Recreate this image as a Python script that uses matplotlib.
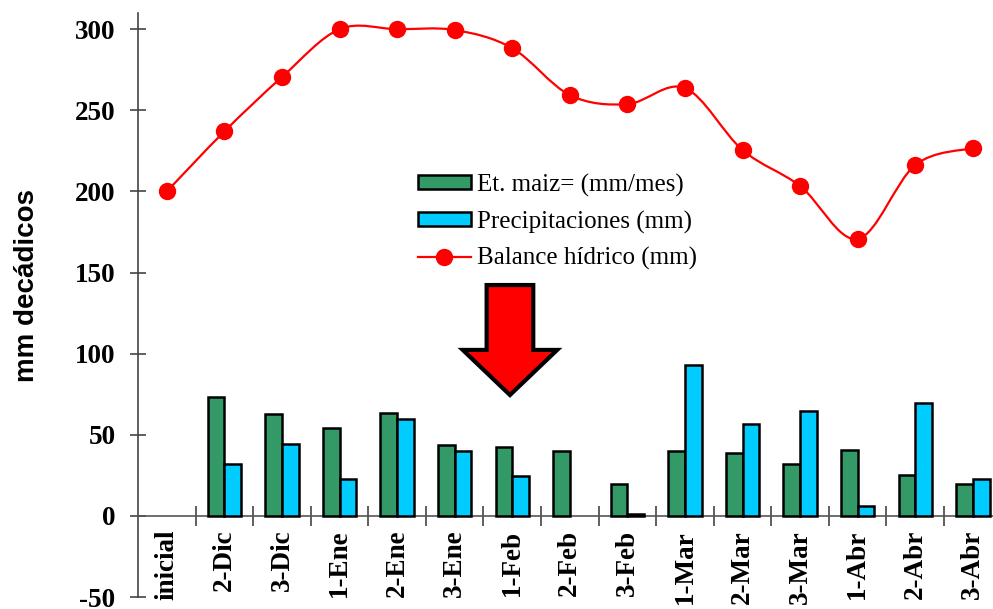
import matplotlib
matplotlib.use('Agg')
import matplotlib.pyplot as plt
import matplotlib.patches as mpatches
from matplotlib.path import Path
from matplotlib.lines import Line2D
import numpy as np

plt.rcParams['axes.unicode_minus'] = False

categorias = ['inicial', '2-Dic', '3-Dic', '1-Ene', '2-Ene', '3-Ene', '1-Feb', '2-Feb',
              '3-Feb', '1-Mar', '2-Mar', '3-Mar', '1-Abr', '2-Abr', '3-Abr']
et_maiz = [np.nan, 73.5, 62.8, 54.4, 63.3, 43.7, 42.7, 39.8, 19.9, 40.0, 38.8, 31.8, 40.9, 25.3, 19.7]
precipitaciones = [np.nan, 31.8, 44.2, 23.0, 60.0, 40.0, 24.8, np.nan, 1.0, 93.0, 56.5, 64.7, 6.0, 69.4, 22.6]
balance = [200, 237, 270.5, 300, 300, 299.5, 288.3, 259.4, 253.8, 263.7, 225.5, 203.3, 170.7, 216.3, 226.7]

verde = '#339966'
celeste = '#00CCFF'
rojo = '#FF0000'
serif = 'Liberation Serif'

fig = plt.figure(figsize=(9.93, 6.09), dpi=100)
ax = fig.add_axes([0.139, 0.0197, 0.8697, 0.959])

x = np.arange(len(categorias))
w = 0.29
ax.bar(x - w / 2, et_maiz, w, color=verde, edgecolor='black', linewidth=1.8, zorder=3)
ax.bar(x + w / 2, precipitaciones, w, color=celeste, edgecolor='black', linewidth=1.8, zorder=3)

# curva suavizada tipo Excel (Bezier por Catmull-Rom)
pts = np.column_stack([x, balance]).astype(float)
verts = [pts[0]]
codes = [Path.MOVETO]
n = len(pts)
for i in range(n - 1):
    p0 = pts[max(i - 1, 0)]
    p1 = pts[i]
    p2 = pts[i + 1]
    p3 = pts[min(i + 2, n - 1)]
    verts += [p1 + (p2 - p0) / 6, p2 - (p3 - p1) / 6, p2]
    codes += [Path.CURVE4] * 3
ax.add_patch(mpatches.PathPatch(Path(verts, codes), facecolor='none', edgecolor=rojo,
                                linewidth=1.6, zorder=4))
ax.plot(x, balance, linestyle='none', marker='o', markersize=11.5, color=rojo, zorder=5)

# flecha
ax.add_patch(mpatches.FancyArrow(5.96, 142.3, 0, -67.8, width=0.81, head_width=1.64,
                                 head_length=27.8, length_includes_head=True,
                                 facecolor=rojo, edgecolor='black', linewidth=3, zorder=6))

ax.set_xlim(-0.5, len(categorias) - 0.5)
ax.set_ylim(-50, 310)
ax.set_yticks(np.arange(-50, 301, 50))

ax.spines['top'].set_visible(False)
ax.spines['right'].set_visible(False)
ax.spines['bottom'].set_position(('data', 0))
ax.spines['bottom'].set_color('#555555')
ax.spines['left'].set_color('#444444')
ax.spines['bottom'].set_linewidth(1.2)
ax.spines['left'].set_linewidth(1.2)

ax.set_xticks(x)
ax.set_xticklabels(categorias, rotation=90, fontfamily=serif, fontweight='bold', fontsize=19.5)
ax.set_xticks(np.arange(0.5, len(categorias) - 0.5, 1), minor=True)
ax.tick_params(axis='x', which='major', length=0, pad=10)
ax.tick_params(axis='x', which='minor', direction='inout', length=15, width=1.2, color='#444444')
ax.tick_params(axis='y', direction='inout', length=11.5, width=1.2, color='#444444', pad=10.5)
for t in ax.get_yticklabels():
    t.set_fontfamily(serif)
    t.set_fontweight('bold')
    t.set_fontsize(19.5)

fig.text(0.027, 0.532, 'mm decádicos', rotation=90, ha='center', va='center',
         fontfamily='Liberation Sans', fontweight='bold', fontsize=20)

handles = [mpatches.Rectangle((0, 0), 1, 1, facecolor=verde, edgecolor='black', linewidth=1.8),
           mpatches.Rectangle((0, 0), 1, 1, facecolor=celeste, edgecolor='black', linewidth=1.8),
           Line2D([], [], color=rojo, linewidth=1.6, marker='o', markersize=11.5)]
etiquetas = ['Et. maiz= (mm/mes)', 'Precipitaciones (mm)', 'Balance hídrico (mm)']
fig.legend(handles, etiquetas, loc='upper left', bbox_to_anchor=(0.421, 0.715), frameon=False,
           prop={'family': serif, 'size': 18}, handlelength=2.1, handleheight=0.5,
           handletextpad=0.25, labelspacing=0.55, borderpad=0, borderaxespad=0)

fig.savefig('out.png', dpi=100)
